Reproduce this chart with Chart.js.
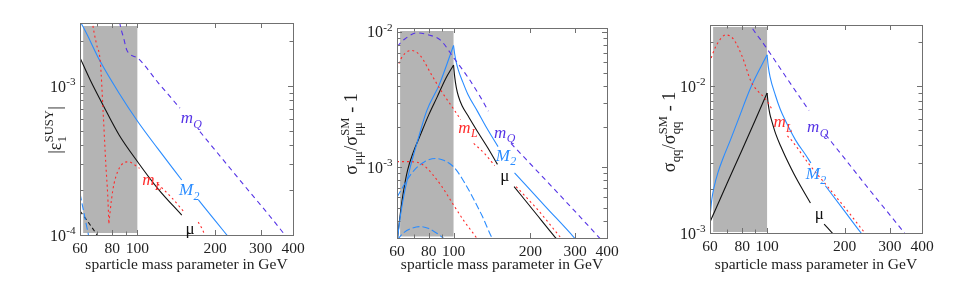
<!DOCTYPE html>
<html>
<head>
<meta charset="utf-8">
<script src="https://cdn.jsdelivr.net/npm/chart.js@4.4.1/dist/chart.umd.min.js"></script>
<style>
html, body { margin: 0; padding: 0; background: #fff; }
#wrap { position: relative; width: 959px; height: 300px; overflow: hidden; }
.panel { position: absolute; top: 0; height: 300px; }
</style>
</head>
<body>
<div id="wrap">
  <div class="panel" style="left:0;width:320px"><canvas id="c1"></canvas></div>
  <div class="panel" style="left:320px;width:320px"><canvas id="c2"></canvas></div>
  <div class="panel" style="left:640px;width:319px"><canvas id="c3"></canvas></div>
</div>
<script>
// x axis, shared by the three panels
const massTicks = [60, 70, 80, 90, 100, 200, 300, 400];
const massLabels = ['60', '', '80', '', '100', '200', '300', '400'];
const shadeRange = [61.7, 100];

// y ticks
const epsTicks = [1e-4, 2e-4, 3e-4, 4e-4, 5e-4, 6e-4, 7e-4, 8e-4, 9e-4, 1e-3, 2e-3];
const epsTickLabels = ['-4', '', '', '', '', '', '', '', '', '-3', ''];
const mumuTicks = [3e-4, 4e-4, 5e-4, 6e-4, 7e-4, 8e-4, 9e-4, 1e-3, 2e-3, 3e-3, 4e-3, 5e-3, 6e-3, 7e-3, 8e-3, 9e-3, 1e-2];
const mumuTickLabels = ['', '', '', '', '', '', '', '-3', '', '', '', '', '', '', '', '', '-2'];
const qqTicks = [1e-3, 2e-3, 3e-3, 4e-3, 5e-3, 6e-3, 7e-3, 8e-3, 9e-3, 1e-2, 2e-2];
const qqTickLabels = ['-3', '', '', '', '', '', '', '', '', '-2', ''];

// panel 1: |eps_1^SUSY|
const p1MuX = [60, 66, 73.8, 85, 100.5, 120, 148.5];
const p1MuY = [1.55e-3, 1.08e-3, 7.4e-4, 4.69e-4, 3.08e-4, 2.05e-4, 1.36e-4];
const p1MuNegX = [60, 65, 71];
const p1MuNegY = [1.45e-4, 1.2e-4, 9.6e-5];
const p1M2X = [59.5, 60.9, 71.9, 85, 100.5, 120, 148.5, 160, 172.3, 200, 225];
const p1M2Y = [2.75e-3, 2.6e-3, 1.46e-3, 8.95e-4, 5.76e-4, 3.8e-4, 2.34e-4, null, 1.72e-4, 1.25e-4, 9.7e-5];
const p1M2NegX = [60, 65];
const p1M2NegY = [1.9e-4, 9.6e-5];
const p1MLAX = [66.3, 67.2, 69.5, 71.9, 73.8, 75.5, 76.8, 77.6];
const p1MLAY = [3.2e-3, 2.6e-3, 1.91e-3, 1.45e-3, 6.5e-4, 3.0e-4, 1.85e-4, 1.2e-4];
const p1MLBX = [77.6, 79.5, 81.3, 86.7, 92.4, 100, 102, 110, 120, 135, 152, 162, 172, 178, 184];
const p1MLBY = [1.2e-4, 1.75e-4, 2.22e-4, 2.95e-4, 3.1e-4, 2.87e-4, 2.8e-4, null, 2.2e-4, 1.8e-4, 1.42e-4, null, 1.22e-4, 1.1e-4, 9.6e-5];
const p1MQX = [84.5, 85.7, 88.5, 91.1, 100.8, 120, 146.2, 160, 174.6, 250, 372, 380];
const p1MQY = [3.1e-3, 2.6e-3, 2.1e-3, 1.74e-3, 1.53e-3, 1.06e-3, 7.1e-4, null, 4.94e-4, 2.32e-4, 1e-4, 9.5e-5];

// panel 2: sigma_mumu / sigma_mumu^SM - 1
const p2MQX = [60, 64, 71.8, 80, 88.9, 100.4, 115, 127.5, 137, 152, 168, 250, 371, 380];
const p2MQY = [7.8e-3, 8.8e-3, 9.85e-3, 9.5e-3, 8.7e-3, 6.4e-3, 4.5e-3, 3.3e-3, 2.6e-3, null, 1.5e-3, 6.8e-4, 3.05e-4, 2.9e-4];
const p2M2UpX = [60.3, 62, 64.5, 67.6, 71.8, 78.4, 88, 100];
const p2M2UpY = [3e-4, 4.5e-4, 6.8e-4, 1.0e-3, 1.5e-3, 2.6e-3, 4.1e-3, 7.95e-3];
const p2M2DnX = [100, 101, 102.5, 104.5, 108, 113.9, 124, 135, 149.5, 160, 173.5, 230, 296, 305];
const p2M2DnY = [7.95e-3, 6.9e-3, 5.95e-3, 5.2e-3, 4.4e-3, 3.45e-3, 2.6e-3, 1.95e-3, 1.42e-3, null, 9.1e-4, 5.1e-4, 3.05e-4, 2.85e-4];
const p2MuUpX = [60.2, 61.5, 63.5, 66, 69.6, 73.8, 80, 86.2, 93, 100];
const p2MuUpY = [2.9e-4, 4.2e-4, 6.5e-4, 9.5e-4, 1.3e-3, 1.7e-3, 2.45e-3, 3.3e-3, 4.5e-3, 5.7e-3];
const p2MuDnX = [100, 101, 102.5, 104.5, 108, 114, 125, 136, 148.7, 160, 172.8, 210, 250, 258];
const p2MuDnY = [5.7e-3, 4.7e-3, 3.9e-3, 3.35e-3, 2.85e-3, 2.4e-3, 1.8e-3, 1.4e-3, 1.05e-3, null, 7.2e-4, 4.57e-4, 3.05e-4, 2.85e-4];
const p2MLX = [60, 63, 68.3, 74, 81.6, 90, 100.4, 106.7, 113, 120, 132, 145, 160, 176, 215, 262, 270];
const p2MLY = [5.4e-3, 6.6e-3, 7.3e-3, 6.7e-3, 4.9e-3, 3.6e-3, 2.67e-3, 2.25e-3, null, 1.5e-3, 1.27e-3, 1.03e-3, null, 7.2e-4, 4.8e-4, 3.05e-4, 2.85e-4];
const p2MLNegX = [60, 65, 71.8, 77, 83, 90, 100.4, 110, 122.4, 126];
const p2MLNegY = [1.1e-3, 1.1e-3, 1.09e-3, 1.02e-3, 8.8e-4, 7.2e-4, 5.2e-4, 4e-4, 3.05e-4, 2.8e-4];
const p2M2NegX = [60, 65, 70, 77, 84.9, 92, 100.4, 110, 120, 130, 141, 145];
const p2M2NegY = [6e-4, 7.8e-4, 9.5e-4, 1.1e-3, 1.16e-3, 1.12e-3, 1e-3, 7.8e-4, 5.8e-4, 4.3e-4, 3.05e-4, 2.8e-4];
const p2M2Neg2X = [60, 64, 68, 73.8, 80, 86, 91, 93];
const p2M2Neg2Y = [2.9e-4, 3.3e-4, 3.52e-4, 3.64e-4, 3.52e-4, 3.25e-4, 3.0e-4, 2.9e-4];

// panel 3: sigma_qq / sigma_qq^SM - 1
const p3MuUpX = [60, 70, 80, 90, 100];
const p3MuUpY = [1.19e-3, 2.19e-3, 3.7e-3, 5.9e-3, 9e-3];
const p3MuDnX = [100, 101, 102.5, 104.3, 108.2, 113, 118, 130, 147.4, 157, 166.6, 182, 186];
const p3MuDnY = [9e-3, 7.6e-3, 6.5e-3, 5.8e-3, 4.7e-3, 3.9e-3, 3.3e-3, 2.35e-3, 1.6e-3, null, 1.15e-3, 9.7e-4, 9.3e-4];
const p3M2UpX = [60, 61, 62.2, 64.5, 67.5, 72, 76.6, 86.8, 100];
const p3M2UpY = [1.3e-3, 1.7e-3, 2.05e-3, 2.6e-3, 3.25e-3, 4.3e-3, 5.7e-3, 1.0e-2, 1.64e-2];
const p3M2DnX = [100, 101, 102.7, 107.7, 112.6, 118, 129, 141.3, 148, 158, 168.5, 200, 232, 240];
const p3M2DnY = [1.64e-2, 1.38e-2, 1.16e-2, 8.7e-3, 6.95e-3, 5.8e-3, 4.3e-3, 3.4e-3, 3e-3, null, 2.1e-3, 1.41e-3, 1e-3, 9.3e-4];
const p3MLX = [58, 60, 63, 69.1, 74, 80, 86.8, 92, 98, 102, 105, 110, 120, 125.6, 145.5, 168.5, 200, 240, 246];
const p3MLY = [1.25e-2, 1.48e-2, 1.85e-2, 2.24e-2, 2.1e-2, 1.6e-2, 1.07e-2, 9.3e-3, 8.3e-3, 7.5e-3, 6.85e-3, null, 4.6e-3, 4.2e-3, 2.95e-3, 2.16e-3, 1.5e-3, 1e-3, 9.5e-4];
const p3MQX = [84.5, 85.5, 98.8, 120, 145.5, 157, 168.5, 198, 250, 342, 350];
const p3MQY = [2.8e-2, 2.68e-2, 1.86e-2, 1.12e-2, 6.85e-3, null, 4.7e-3, 3.3e-3, 1.97e-3, 1e-3, 9.5e-4];

// curve labels, placed at data coordinates [x, y]
const p1LabelPos = { mQ: [162, 6.1e-4], M2: [159, 2.0e-4], mL: [114, 2.34e-4], mu: [160, 1.1e-4] };
const p2LabelPos = { mQ: [159, 1.8e-3], M2: [161, 1.22e-3], mL: [114, 1.96e-3], mu: [159, 8.6e-4] };
const p3LabelPos = { mQ: [157.5, 5.3e-3], M2: [155, 2.52e-3], mL: [115.5, 5.7e-3], mu: [159.5, 1.34e-3] };

const BLACK = '#111111';
const BLUE = '#2a8cff';
const RED = '#ff2b2b';
const PURPLE = '#5533e6';
const SHADE = '#b4b4b4';
const FRAME = '#707070';
const SERIF = '"Liberation Serif", "DejaVu Serif", serif';

function fontOf(size, italic) {
    return (italic ? 'italic ' : '') + size + 'px ' + SERIF;
}

// parts: {t: text} or {sub: text, sup: text}
function measureRich(ctx, parts, size, italic) {
    let w = 0;
    parts.forEach(p => {
        if (p.t !== undefined) {
            ctx.font = fontOf(size, italic);
            w += ctx.measureText(p.t).width;
        } else {
            ctx.font = fontOf(size * 0.7, italic);
            const a = p.sub ? ctx.measureText(p.sub).width : 0;
            const b = p.sup ? ctx.measureText(p.sup).width : 0;
            w += Math.max(a, b) + size * 0.04;
        }
    });
    return w;
}

function drawRich(ctx, parts, x, y, size, italic, align, color) {
    const w = measureRich(ctx, parts, size, italic);
    let cx = align === 'right' ? x - w : (align === 'left' ? x : x - w / 2);
    ctx.fillStyle = color;
    ctx.textAlign = 'left';
    ctx.textBaseline = 'alphabetic';
    parts.forEach(p => {
        if (p.t !== undefined) {
            ctx.font = fontOf(size, italic);
            ctx.fillText(p.t, cx, y);
            cx += ctx.measureText(p.t).width;
        } else {
            ctx.font = fontOf(size * 0.7, italic);
            let a = 0, b = 0;
            if (p.sub) { ctx.fillText(p.sub, cx + size * 0.02, y + size * 0.28); a = ctx.measureText(p.sub).width; }
            if (p.sup) { ctx.fillText(p.sup, cx + size * 0.02, y - size * 0.42); b = ctx.measureText(p.sup).width; }
            cx += Math.max(a, b) + size * 0.04;
        }
    });
}

function line(xs, ys, color, dash) {
    return {
        data: xs.map((x, i) => ({ x: x, y: ys[i] })),
        borderColor: color,
        borderWidth: 1.1,
        borderDash: dash || [],
        pointRadius: 0,
        fill: false,
        spanGaps: false,
        cubicInterpolationMode: 'monotone'
    };
}

const DOT = [2, 3];
const DASH = [5, 4];
const LDASH = [7, 3];

const curveLabels = {
    mQ: { parts: [{ t: 'm' }, { sub: 'Q' }], italic: true, color: PURPLE },
    M2: { parts: [{ t: 'M' }, { sub: '2' }], italic: true, color: BLUE },
    mL: { parts: [{ t: 'm' }, { sub: 'L' }], italic: true, color: RED },
    mu: { parts: [{ t: 'μ' }], italic: false, color: BLACK }
};

const panelPlugin = {
    id: 'panelDecor',
    beforeDatasetsDraw(chart) {
        const o = chart.options.plugins.panelDecor;
        const { ctx, chartArea: a, scales: { x, y } } = chart;
        const x0 = x.getPixelForValue(shadeRange[0]);
        const x1 = x.getPixelForValue(shadeRange[1]);
        ctx.save();
        ctx.fillStyle = SHADE;
        ctx.fillRect(x0, a.top + o.shadeInset[0], x1 - x0, a.bottom - a.top - o.shadeInset[0] - o.shadeInset[1]);
        ctx.restore();
    },
    afterDraw(chart) {
        const o = chart.options.plugins.panelDecor;
        const { ctx, chartArea: a, scales: { x, y } } = chart;
        ctx.save();
        // frame
        ctx.strokeStyle = FRAME;
        ctx.lineWidth = 1;
        ctx.strokeRect(Math.round(a.left) + 0.5, Math.round(a.top) + 0.5,
            Math.round(a.right - a.left), Math.round(a.bottom - a.top));
        // inward ticks on all four sides
        ctx.beginPath();
        massTicks.forEach((v, i) => {
            const px = Math.round(x.getPixelForValue(v)) + 0.5;
            const len = massLabels[i] ? 5 : 3.5;
            ctx.moveTo(px, a.bottom); ctx.lineTo(px, a.bottom - len);
            ctx.moveTo(px, a.top); ctx.lineTo(px, a.top + len);
        });
        o.yTicks.forEach((v, i) => {
            const py = Math.round(y.getPixelForValue(v)) + 0.5;
            const len = o.yLabels[i] ? 5 : 3.5;
            ctx.moveTo(a.left, py); ctx.lineTo(a.left + len, py);
            ctx.moveTo(a.right, py); ctx.lineTo(a.right - len, py);
        });
        ctx.stroke();
        // y tick labels 10^n
        o.yTicks.forEach((v, i) => {
            if (!o.yLabels[i]) return;
            const py = y.getPixelForValue(v);
            drawRich(ctx, [{ t: '10' }, { sup: o.yLabels[i] }], a.left - 4, py + 5.5, 16, false, 'right', '#222');
        });
        // y title, rotated
        ctx.translate(o.titlePos[0], o.titlePos[1]);
        ctx.rotate(-Math.PI / 2);
        drawRich(ctx, o.yTitle, 0, 6, 18, false, 'center', '#222');
        ctx.setTransform(1, 0, 0, 1, 0, 0);
        // curve labels
        Object.keys(o.labels).forEach(k => {
            const L = curveLabels[k];
            const pos = o.labels[k];
            const px = x.getPixelForValue(pos[0]);
            const py = y.getPixelForValue(pos[1]);
            drawRich(ctx, L.parts, px, py + 5, 17, L.italic, 'center', L.color);
        });
        ctx.restore();
    }
};

function makePanel(id, box, yMin, yMax, yTicks, yLabels, yTitle, titlePos, shadeInset, labels, datasets) {
    const canvas = document.getElementById(id);
    const W = canvas.parentNode.clientWidth;
    return new Chart(canvas, {
        type: 'line',
        data: { datasets: datasets },
        plugins: [panelPlugin],
        options: {
            responsive: true,
            maintainAspectRatio: false,
            devicePixelRatio: 1,
            animation: false,
            events: [],
            layout: { padding: { top: box.top, right: W - box.right, left: 0, bottom: 0 } },
            plugins: {
                legend: { display: false },
                tooltip: { enabled: false },
                panelDecor: { yTicks, yLabels, yTitle, titlePos, shadeInset, labels }
            },
            scales: {
                x: {
                    type: 'logarithmic',
                    min: 60,
                    max: 400,
                    afterBuildTicks: s => { s.ticks = massTicks.map(v => ({ value: v })); },
                    afterFit: s => { s.height = 300 - box.bottom; },
                    grid: { display: false, drawTicks: false },
                    border: { display: false },
                    ticks: {
                        autoSkip: false,
                        maxRotation: 0,
                        padding: 5,
                        color: '#222',
                        font: { family: SERIF, size: 15.5 },
                        callback: (v, i) => massLabels[i]
                    },
                    title: {
                        display: true,
                        text: 'sparticle mass parameter in GeV',
                        color: '#222',
                        font: { family: SERIF, size: 15.5 },
                        padding: { top: 0, bottom: 26 }
                    }
                },
                y: {
                    type: 'logarithmic',
                    min: yMin,
                    max: yMax,
                    afterBuildTicks: s => { s.ticks = yTicks.map(v => ({ value: v })); },
                    afterFit: s => { s.width = box.left; },
                    grid: { display: false, drawTicks: false },
                    border: { display: false },
                    ticks: { display: false }
                }
            }
        }
    });
}

makePanel('c1', { left: 80, top: 23, right: 293, bottom: 235 }, 1e-4, 2.65e-3, epsTicks, epsTickLabels,
    [{ t: '|ε' }, { sub: '1', sup: 'SUSY' }, { t: '|' }], [55, 130], [3, 2], p1LabelPos, [
        line(p1MQX, p1MQY, PURPLE, DASH),
        line(p1MLAX, p1MLAY, RED, DOT),
        line(p1MLBX, p1MLBY, RED, DOT),
        line(p1M2X, p1M2Y, BLUE),
        line(p1M2NegX, p1M2NegY, BLUE, LDASH),
        line(p1MuX, p1MuY, BLACK),
        line(p1MuNegX, p1MuNegY, BLACK, [4, 3])
    ]);

makePanel('c2', { left: 77, top: 28, right: 287, bottom: 238 }, 3.05e-4, 1.07e-2, mumuTicks, mumuTickLabels,
    [{ t: 'σ' }, { sub: 'μμ' }, { t: '/σ' }, { sub: 'μμ', sup: 'SM' }, { t: ' - 1' }], [31, 134], [3, 1.5], p2LabelPos, [
        line(p2MQX, p2MQY, PURPLE, DASH),
        line(p2MLX, p2MLY, RED, DOT),
        line(p2MLNegX, p2MLNegY, RED, DOT),
        line(p2M2NegX, p2M2NegY, BLUE, LDASH),
        line(p2M2Neg2X, p2M2Neg2Y, BLUE, LDASH),
        line(p2M2UpX, p2M2UpY, BLUE),
        line(p2M2DnX, p2M2DnY, BLUE),
        line(p2MuUpX, p2MuUpY, BLACK),
        line(p2MuDnX, p2MuDnY, BLACK)
    ]);

makePanel('c3', { left: 70, top: 25, right: 282, bottom: 233 }, 1e-3, 2.62e-2, qqTicks, qqTickLabels,
    [{ t: 'σ' }, { sub: 'qq' }, { t: '/σ' }, { sub: 'qq', sup: 'SM' }, { t: ' - 1' }], [29, 132], [2, 1], p3LabelPos, [
        line(p3MQX, p3MQY, PURPLE, DASH),
        line(p3MLX, p3MLY, RED, DOT),
        line(p3M2UpX, p3M2UpY, BLUE),
        line(p3M2DnX, p3M2DnY, BLUE),
        line(p3MuUpX, p3MuUpY, BLACK),
        line(p3MuDnX, p3MuDnY, BLACK)
    ]);
</script>
</body>
</html>
